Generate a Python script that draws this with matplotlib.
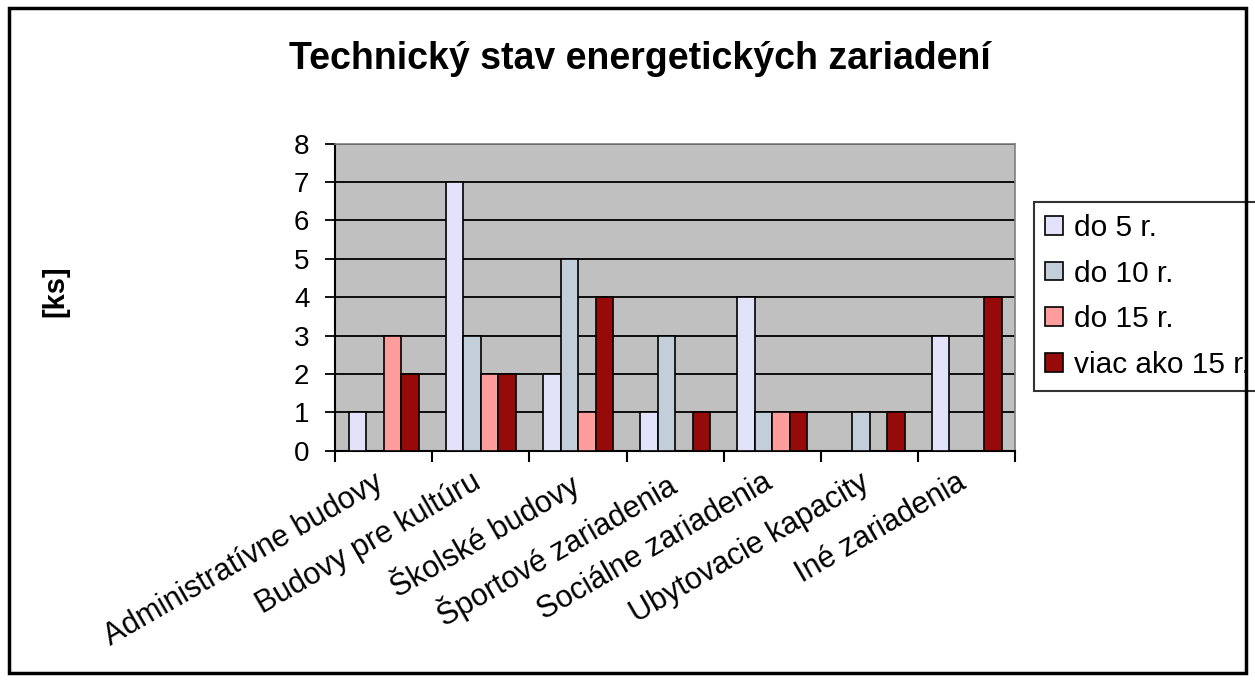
#Technical state of energy facilities - grouped bar chart

import matplotlib.pyplot as plt
import matplotlib.transforms as mtransforms
import numpy as np
from matplotlib.patches import Rectangle

plt.rcParams['font.family'] = ['Liberation Sans', 'DejaVu Sans']

#categories and counts per age group
categories = ['Administratívne budovy', 'Budovy pre kultúru', 'Školské budovy',
              'Športové zariadenia', 'Sociálne zariadenia', 'Ubytovacie kapacity',
              'Iné zariadenia']
do5 = [1, 7, 2, 1, 4, 0, 3]
do10 = [0, 3, 5, 3, 1, 1, 0]
do15 = [3, 2, 1, 0, 1, 0, 0]
viac15 = [2, 2, 4, 1, 1, 1, 4]

series = [('do 5 r.', do5, '#E2E2FA'),
          ('do 10 r.', do10, '#C2CEDA'),
          ('do 15 r.', do15, '#FF9C9C'),
          ('viac ako 15 r.', viac15, '#960A0A')]

fig = plt.figure(figsize=(12.55, 6.81), dpi=100)
ax = fig.add_axes([0.267, 0.338, 0.542, 0.451])
ax.set_facecolor('#C0C0C0')

x = np.arange(len(categories))
w = 0.18
for i, (name, vals, col) in enumerate(series):
    ax.bar(x + (i - 1.5) * w, vals, w, color=col, edgecolor='black',
           linewidth=1.2, label=name, zorder=3)

ax.set_xlim(-0.5, len(categories) - 0.5)
ax.set_ylim(0, 8)
ax.set_yticks(range(0, 9))
ax.tick_params(axis='y', labelsize=20, length=7.5, width=1.3, direction='out', pad=11)
ax.yaxis.grid(True, color='black', linewidth=1.3, zorder=0)
ax.set_axisbelow(True)

#labels at category centres, tick marks at the boundaries
ax.set_xticks(x)
ax.set_xticklabels(categories, rotation=30, ha='right', va='top',
                   rotation_mode='anchor', fontsize=22)
ax.tick_params(axis='x', which='major', length=0, pad=12)
shift = mtransforms.ScaledTranslation(-0.1, 0, fig.dpi_scale_trans)
for lab in ax.get_xticklabels():
    lab.set_transform(lab.get_transform() + shift)
ax.set_xticks(np.arange(-0.5, len(categories)), minor=True)
ax.tick_params(axis='x', which='minor', length=8, width=1.5, direction='out')

for s in ['top', 'right']:
    ax.spines[s].set_color('#808080')
    ax.spines[s].set_linewidth(1.2)
for s in ['left', 'bottom']:
    ax.spines[s].set_color('black')
    ax.spines[s].set_linewidth(1.5)

ax.set_ylabel('[ks]', fontsize=21, fontweight='bold')
ax.yaxis.set_label_coords(-0.39, 0.52)

fig.suptitle('Technický stav energetických zariadení', fontsize=27,
             fontweight='bold', x=0.51, y=0.94)

leg = fig.legend(loc='upper left', bbox_to_anchor=(0.824, 0.703), fontsize=21.5,
                 frameon=True, fancybox=False, edgecolor='black',
                 handlelength=0.6, handleheight=0.6, handletextpad=0.35,
                 borderpad=0.38, labelspacing=0.6, borderaxespad=0)
leg.get_frame().set_linewidth(1.5)

#outer border around the chart
fig.patches.append(Rectangle((0.007, 0.012), 0.986, 0.976, transform=fig.transFigure,
                             fill=False, edgecolor='black', linewidth=2.5, zorder=10))

plt.savefig('out.png', dpi=100)
